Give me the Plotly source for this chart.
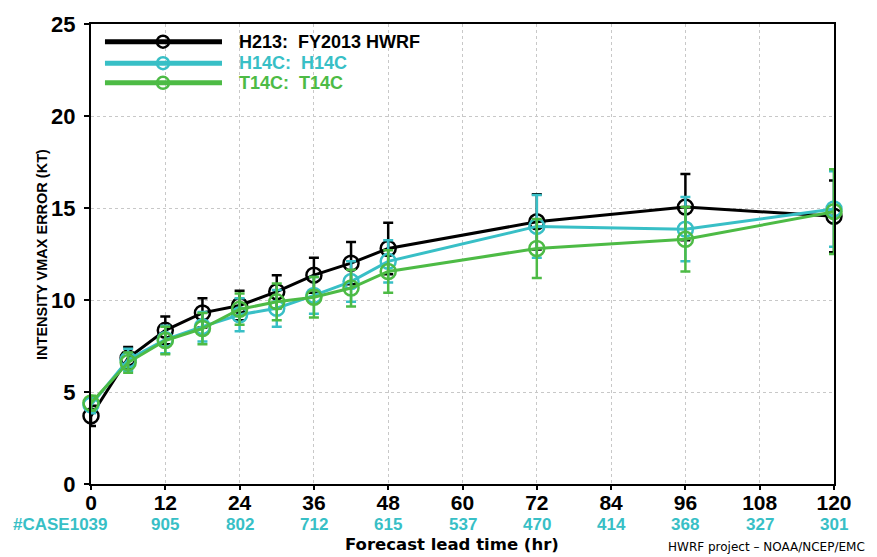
import plotly.graph_objects as go

lead = [0, 6, 12, 18, 24, 30, 36, 42, 48, 72, 96, 120]
h213 = [3.7, 6.85, 8.35, 9.3, 9.7, 10.45, 11.35, 12.0, 12.8, 14.25, 15.05, 14.55]
h213_err = [0.55, 0.6, 0.75, 0.8, 0.8, 0.9, 0.95, 1.15, 1.4, 1.5, 1.8, 1.95]
h14c = [4.3, 6.75, 7.85, 8.55, 9.2, 9.55, 10.25, 11.0, 12.1, 14.0, 13.85, 14.95]
h14c_err = [0.45, 0.6, 0.75, 0.8, 0.9, 1.0, 1.0, 1.1, 1.15, 1.7, 1.75, 2.05]
t14c = [4.4, 6.6, 7.8, 8.45, 9.5, 9.9, 10.15, 10.65, 11.55, 12.8, 13.3, 14.8]
t14c_err = [0.4, 0.55, 0.75, 0.85, 0.85, 1.0, 1.1, 1.0, 1.15, 1.6, 1.75, 2.3]

tick_hours = [0, 12, 24, 36, 48, 60, 72, 84, 96, 108, 120]
case_counts = ["1039", "905", "802", "712", "615", "537", "470", "414", "368", "327", "301"]

names = ["H213:\u00a0\u00a0FY2013 HWRF", "H14C:\u00a0\u00a0H14C", "T14C:\u00a0\u00a0T14C"]
colors = ["#000000", "#38BFC6", "#4DBB45"]
series = [h213, h14c, t14c]
errs = [h213_err, h14c_err, t14c_err]

BOLD = "Liberation Sans"
WIDE = "DejaVu Sans"

fig = go.Figure()
for name, col, ys, er in zip(names, colors, series, errs):
    fig.add_trace(go.Scatter(
        x=lead, y=ys, name=name, mode="lines+markers",
        line=dict(color=col, width=3),
        marker=dict(symbol="circle-open", size=15, color=col, line=dict(width=2.5, color=col)),
        error_y=dict(type="data", array=er, visible=True, color=col, thickness=2.5, width=5),
        cliponaxis=False, showlegend=False,
    ))

shapes = []
annotations = []
# manual legend (paper coordinates)
leg_y = [0.9616, 0.9147, 0.8721]
for name, col, ly in zip(names, colors, leg_y):
    shapes.append(dict(type="line", xref="paper", yref="paper", x0=0.0188, x1=0.1763, y0=ly, y1=ly,
                       line=dict(color=col, width=5)))
    shapes.append(dict(type="circle", xref="paper", yref="paper", xsizemode="pixel", ysizemode="pixel",
                       xanchor=0.0969, yanchor=ly, x0=-6, x1=6, y0=-6, y1=6,
                       line=dict(color=col, width=2.5), fillcolor="rgba(0,0,0,0)"))
    annotations.append(dict(xref="paper", yref="paper", x=0.1965, y=ly, xanchor="left", yanchor="middle",
                            text="<b>%s</b>" % name, showarrow=False,
                            font=dict(family=BOLD, size=18, color=col)))

# case counts row
for h, c in zip(tick_hours, case_counts):
    if h == 0:
        annotations.append(dict(xref="x", yref="paper", x=h, y=0, yshift=-40, xshift=19,
                                xanchor="right", yanchor="middle", showarrow=False,
                                text="<b>#CASE%s</b>" % c, font=dict(family=BOLD, size=17, color=colors[1])))
    else:
        annotations.append(dict(xref="x", yref="paper", x=h, y=0, yshift=-40,
                                xanchor="center", yanchor="middle", showarrow=False,
                                text="<b>%s</b>" % c, font=dict(family=BOLD, size=17, color=colors[1])))

annotations.append(dict(xref="paper", yref="paper", x=0.486, y=0, yshift=-60, xanchor="center", yanchor="middle",
                        showarrow=False, text="<b>Forecast lead time (hr)</b>",
                        font=dict(family=WIDE, size=16.5, color="black")))
annotations.append(dict(xref="paper", yref="paper", x=1.0444, y=0, yshift=-63, xanchor="right", yanchor="middle",
                        showarrow=False, text="HWRF project \u2013 NOAA/NCEP/EMC",
                        font=dict(family=WIDE, size=12, color="black")))
annotations.append(dict(xref="paper", yref="paper", x=-0.066, y=0.50, xanchor="center", yanchor="middle",
                        showarrow=False, textangle=-90, text="<b>INTENSITY VMAX ERROR (KT)</b>",
                        font=dict(family=BOLD, size=14.5, color="black")))

fig.update_layout(
    width=877, height=557,
    margin=dict(l=91, r=43, t=15, b=73),
    plot_bgcolor="white", paper_bgcolor="white",
    shapes=shapes, annotations=annotations,
    showlegend=False,
)
fig.update_xaxes(range=[0, 120], tickvals=tick_hours, ticktext=[str(t) for t in tick_hours],
                 showline=True, linecolor="black", linewidth=2, mirror=True,
                 ticks="outside", ticklen=4, tickwidth=2, tickcolor="black",
                 showgrid=True, gridcolor="#c8c8c8", griddash="dot", gridwidth=1,
                 zeroline=False, ticklabelstandoff=-5,
                 tickfont=dict(family=BOLD, size=21, color="black", weight="bold"))
fig.update_yaxes(range=[0, 25], tickvals=[0, 5, 10, 15, 20, 25],
                 showline=True, linecolor="black", linewidth=2, mirror=True,
                 ticks="outside", ticklen=5, tickwidth=2, tickcolor="black",
                 showgrid=True, gridcolor="#c8c8c8", griddash="dot", gridwidth=1,
                 zeroline=False, ticklabelstandoff=4,
                 tickfont=dict(family=BOLD, size=22, color="black", weight="bold"))

fig.write_html("out.html")
